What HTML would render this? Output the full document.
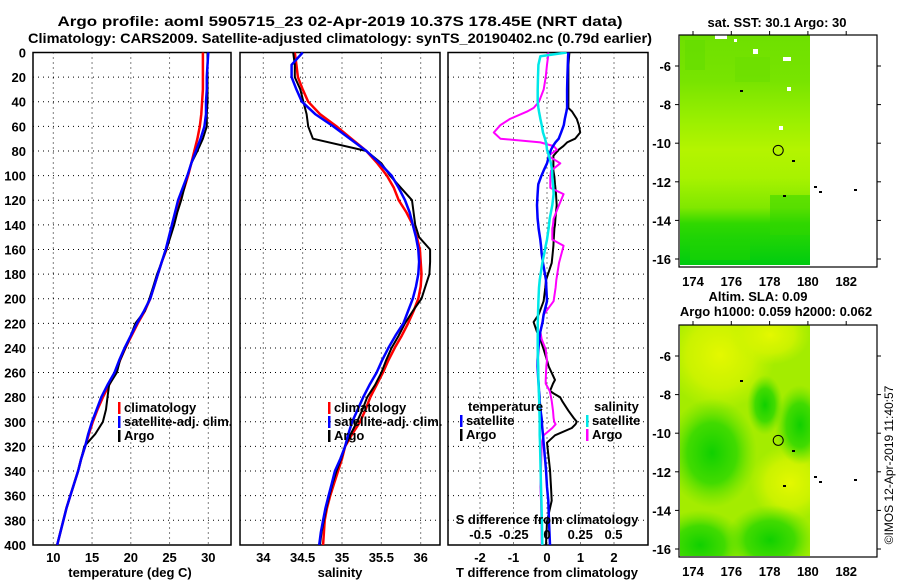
<!DOCTYPE html>
<html><head><meta charset="utf-8"><style>
html,body{margin:0;padding:0;background:#fff;}
svg{display:block;font-family:"Liberation Sans",Arial,sans-serif;font-weight:bold;}
</style></head><body>
<svg id="fig" width="900" height="580" viewBox="0 0 900 580" xmlns="http://www.w3.org/2000/svg">
<defs>
<linearGradient id="sstGrad" x1="0" y1="0" x2="0" y2="1">
<stop offset="0" stop-color="#6ee000"/><stop offset="0.2" stop-color="#78e400"/>
<stop offset="0.35" stop-color="#96ee00"/><stop offset="0.5" stop-color="#b4f400"/>
<stop offset="0.62" stop-color="#a8f200"/><stop offset="0.75" stop-color="#80e800"/>
<stop offset="0.82" stop-color="#30d800"/><stop offset="1" stop-color="#00cc10"/>
</linearGradient>
<radialGradient id="blobG" cx="0.5" cy="0.5" r="0.5"><stop offset="0" stop-color="#10d000"/><stop offset="0.55" stop-color="#30d800" stop-opacity="0.85"/><stop offset="1" stop-color="#60e000" stop-opacity="0"/></radialGradient>
<radialGradient id="blobY" cx="0.5" cy="0.5" r="0.5"><stop offset="0" stop-color="#e4f800"/><stop offset="0.6" stop-color="#d4f400" stop-opacity="0.8"/><stop offset="1" stop-color="#c8f400" stop-opacity="0"/></radialGradient>
<clipPath id="clipP1"><rect x="33" y="52" width="198" height="493"/></clipPath>
<clipPath id="clipP2"><rect x="240" y="52" width="200" height="493"/></clipPath>
<clipPath id="clipP3"><rect x="448" y="52" width="200" height="493"/></clipPath>
<clipPath id="clipM2"><rect x="680" y="325" width="130" height="231"/></clipPath>
</defs>
<text x="340" y="26" text-anchor="middle" font-size="14" textLength="565" lengthAdjust="spacingAndGlyphs">Argo profile: aoml 5905715_23 02-Apr-2019 10.37S 178.45E (NRT data)</text>
<text x="340" y="43" text-anchor="middle" font-size="14" textLength="624" lengthAdjust="spacingAndGlyphs">Climatology: CARS2009. Satellite-adjusted climatology: synTS_20190402.nc (0.79d earlier)</text>
<g id="panels"></g>
<g id="maps"></g>
<text transform="translate(893,465) rotate(-90)" text-anchor="middle" font-size="12" font-weight="normal">©IMOS 12-Apr-2019 11:40:57</text>
</svg>
<script>
// ---- data ----
const depths=[0,10,20,30,40,50,60,70,80,90,100,110,120,130,140,150,160,170,180,190,200,210,220,230,240,250,260,270,280,290,300,310,320,330,340,350,360,370,380,390,400];
const tempClim=[29.3,29.3,29.3,29.3,29.2,29.1,28.9,28.6,28.2,27.8,27.4,26.9,26.3,25.9,25.5,25.0,24.6,24.0,23.5,23.0,22.5,21.8,20.9,20.1,19.3,18.6,18.0,17.2,16.4,15.7,15.1,14.6,14.1,13.6,13.2,12.7,12.2,11.7,11.3,10.9,10.5];
const tempSat=[30.0,29.9,29.8,29.8,29.7,29.7,29.5,29.0,28.4,27.8,27.3,26.7,26.1,25.7,25.3,24.9,24.5,24.0,23.5,23.0,22.5,21.7,20.8,20.0,19.2,18.5,17.9,17.0,16.2,15.6,15.0,14.5,14.1,13.6,13.2,12.7,12.2,11.7,11.3,10.9,10.5];
const tempArgo=[29.9,29.9,29.9,29.9,29.9,29.8,29.8,29.3,28.6,27.8,27.3,26.9,26.5,26.0,25.6,25.1,24.6,24.0,23.4,22.9,22.4,21.8,20.6,20.0,19.3,18.6,18.2,17.2,17.0,16.8,16.4,15.4,14.0,13.6,13.2,12.7,12.2,11.7,11.3,10.9,10.5];
const salClim=[34.40,34.42,34.44,34.50,34.57,34.72,34.93,35.12,35.31,35.45,35.57,35.66,35.72,35.82,35.90,35.95,35.99,36.00,36.01,36.00,35.97,35.91,35.84,35.76,35.67,35.59,35.52,35.44,35.36,35.30,35.23,35.13,35.04,35.00,34.95,34.90,34.85,34.81,34.78,34.77,34.76];
const salSat=[34.50,34.36,34.36,34.42,34.49,34.66,34.89,35.10,35.31,35.48,35.63,35.72,35.80,35.86,35.90,35.94,35.97,35.98,35.97,35.94,35.90,35.84,35.78,35.68,35.59,35.51,35.44,35.35,35.27,35.20,35.13,35.08,35.04,34.98,34.91,34.87,34.83,34.79,34.76,34.73,34.71];
const salArgo=[34.38,34.40,34.40,34.47,34.51,34.55,34.57,34.63,35.31,35.50,35.61,35.75,35.89,35.91,35.93,35.98,36.12,36.12,36.11,36.06,36.01,35.90,35.80,35.72,35.63,35.56,35.50,35.42,35.32,35.26,35.19,35.11,35.04,34.99,34.93,34.88,34.84,34.80,34.77,34.74,34.72];
const dDepths=[0,3,10,20,30,40,45,48,54,59,65,70,73,76,79,84,90,96,101,107,110,115,124,135,140,143,152,157,163,171,185,191,202,213,219,227,233,241,250,255,266,269,275,277,280,283,291,297,300,302,305,311,317,339,353,364,381,400];
const tDiffSat=[0.64,0.63,0.62,0.61,0.60,0.60,0.60,0.58,0.53,0.50,0.42,0.35,0.25,0.18,0.12,0.06,0.00,-0.10,-0.18,-0.26,-0.27,-0.28,-0.30,-0.28,-0.26,-0.25,-0.20,-0.18,-0.16,-0.12,-0.03,-0.02,0.00,-0.10,-0.13,-0.20,-0.23,-0.26,-0.28,-0.28,-0.26,-0.25,-0.24,-0.23,-0.22,-0.22,-0.19,-0.16,-0.15,-0.15,-0.14,-0.12,-0.10,-0.03,0.00,0.04,0.06,0.09];
const tDiffArgo=[0.67,0.66,0.64,0.64,0.64,0.64,0.64,0.75,0.89,0.95,0.99,0.84,0.60,0.49,0.35,0.19,0.19,0.19,0.22,0.24,0.25,0.27,0.29,0.25,0.24,0.22,0.20,0.19,0.17,0.14,-0.03,-0.05,-0.10,-0.25,-0.40,-0.30,-0.20,-0.10,0.00,0.05,0.24,0.18,0.09,0.20,0.39,0.45,0.64,0.80,0.89,0.85,0.74,0.24,0.00,0.09,0.12,0.14,0.00,-0.03];
const sDiffSat=[0.148,-0.050,-0.065,-0.068,-0.070,-0.070,-0.065,-0.060,-0.050,-0.040,-0.030,-0.015,-0.008,-0.003,0.000,0.015,0.030,0.038,0.040,0.045,0.047,0.050,0.040,0.020,0.015,0.012,0.000,-0.010,-0.020,-0.035,-0.055,-0.060,-0.065,-0.068,-0.069,-0.070,-0.070,-0.070,-0.068,-0.066,-0.065,-0.064,-0.062,-0.061,-0.060,-0.059,-0.057,-0.056,-0.055,-0.055,-0.055,-0.055,-0.053,-0.048,-0.045,-0.042,-0.038,-0.035];
const sDiffArgo=[0.010,0.008,0.000,-0.010,-0.025,-0.060,-0.100,-0.150,-0.280,-0.350,-0.400,-0.350,-0.050,0.050,0.075,0.010,0.100,0.030,0.025,0.025,0.025,0.125,0.090,0.050,0.045,0.040,0.040,0.125,0.110,0.090,0.070,0.065,0.050,-0.025,-0.035,-0.050,-0.040,-0.010,0.000,-0.005,-0.010,-0.010,0.020,0.025,0.030,0.035,0.045,0.050,0.055,0.065,0.040,-0.025,-0.040,-0.045,-0.050,-0.045,-0.042,-0.040];
const depthTicks=[0,20,40,60,80,100,120,140,160,180,200,220,240,260,280,300,320,340,360,380,400];
const tempTicks=[10,15,20,25,30];
const salTicks=[34,34.5,35,35.5,36];
const tdTicks=[-2,-1,0,1,2];
const sdTicks=[-0.5,-0.25,0,0.25,0.5];
const sdTickLabels=["-0.5","-0.25","0","0.25","0.5"];
const lonTicks=[174,176,178,180,182];
const latTicks=[-6,-8,-10,-12,-14,-16];
const argoLon=178.45, argoLat=-10.37;

// ---- scales ----
const yD=d=>52.5+d*1.231;
const xT=t=>53.3+(t-10)*7.75;
const xS=s=>263.3+(s-34)*78.7;
const xTD=t=>547+t*33.5;
const xSD=s=>547+s*133;
const NS="http://www.w3.org/2000/svg";
function mk(tag,attrs,parent,txt){const e=document.createElementNS(NS,tag);for(const k in attrs)e.setAttribute(k,attrs[k]);if(txt!==undefined)e.textContent=txt;parent.appendChild(e);return e;}
const panels=document.getElementById('panels');

function panelFrame(x0,w,name){
  const g=mk('g',{},panels);
  
  
  const r=mk('rect',{x:x0,y:52.5,width:w,height:492.5,fill:'none',stroke:'#000','stroke-width':1.5},g);
  
  
  depthTicks.forEach(d=>{
    if(d>0&&d<400){const l=mk('line',{x1:x0,x2:x0+w,y1:yD(d),y2:yD(d),stroke:'#000','stroke-width':1,'stroke-dasharray':'1,4'},g);
    
    }
  });
  return g;
}
function vgrid(g,ticks,fx){ticks.forEach(t=>{const l=mk('line',{x1:fx(t),x2:fx(t),y1:52.5,y2:545,stroke:'#000','stroke-width':1,'stroke-dasharray':'1,4'},g);
  
  });}
function xlabels(g,ticks,fx,labels,y){ticks.forEach((t,i)=>{const e=mk('text',{x:fx(t),y:y,'text-anchor':'middle','font-size':13},g,labels?labels[i]:String(t));
  
  });}
function series(g,xs,ds,fx,color,w,name,clip){
  const pts=xs.map((v,i)=>fx(v).toFixed(1)+','+yD(ds[i]).toFixed(1)).join(' ');
  const p=mk('polyline',{points:pts,fill:'none',stroke:color,'stroke-width':w,'stroke-linejoin':'round','clip-path':clip},g);
  
  
}
function legend(g,x,y,color,label){
  const b=mk('rect',{x:x,y:y-10,width:2.5,height:12,fill:color},g);
  
  
  const t=mk('text',{x:x+6,y:y,'font-size':13},g,label);
  
  
}

depthTicks.forEach(d=>{const t=mk('text',{x:26,y:yD(d)+5,'text-anchor':'end','font-size':13},panels,String(d));
  
  });

const g1=panelFrame(33,198,'temperature-panel');
vgrid(g1,tempTicks,xT);
series(g1,tempClim,depths,xT,'#ff0000',2.5,'temp-climatology-line','url(#clipP1)');
series(g1,tempArgo,depths,xT,'#000000',2,'temp-argo-line','url(#clipP1)');
series(g1,tempSat,depths,xT,'#0000ff',2.5,'temp-satellite-line','url(#clipP1)');
xlabels(g1,tempTicks,xT,null,562);
let t1=mk('text',{x:130,y:577,'text-anchor':'middle','font-size':13},g1,'temperature (deg C)');


legend(g1,118,412,'#ff0000','climatology');
legend(g1,118,426,'#0000ff','satellite-adj. clim.');
legend(g1,118,440,'#000000','Argo');

const g2=panelFrame(240,200,'salinity-panel');
vgrid(g2,salTicks,xS);
series(g2,salClim,depths,xS,'#ff0000',2.5,'sal-climatology-line','url(#clipP2)');
series(g2,salArgo,depths,xS,'#000000',2,'sal-argo-line','url(#clipP2)');
series(g2,salSat,depths,xS,'#0000ff',2.5,'sal-satellite-line','url(#clipP2)');
xlabels(g2,salTicks,xS,null,562);
let t2=mk('text',{x:340,y:577,'text-anchor':'middle','font-size':13},g2,'salinity');


legend(g2,328,412,'#ff0000','climatology');
legend(g2,328,426,'#0000ff','satellite-adj. clim.');
legend(g2,328,440,'#000000','Argo');

const g3=panelFrame(448,200,'difference-panel');
vgrid(g3,tdTicks,xTD);
series(g3,tDiffArgo,dDepths,xTD,'#000000',2,'tdiff-argo-line','url(#clipP3)');
series(g3,sDiffArgo,dDepths,xSD,'#ff00ff',2,'sdiff-argo-line','url(#clipP3)');
series(g3,tDiffSat,dDepths,xTD,'#0000ff',2.5,'tdiff-satellite-line','url(#clipP3)');
series(g3,sDiffSat,dDepths,xSD,'#00e8e8',2.5,'sdiff-satellite-line','url(#clipP3)');
xlabels(g3,tdTicks,xTD,null,562);
xlabels(g3,sdTicks,xSD,sdTickLabels,539);
let t3=mk('text',{x:547,y:524,'text-anchor':'middle','font-size':13},g3,'S difference from climatology');


let t4=mk('text',{x:547,y:577,'text-anchor':'middle','font-size':13},g3,'T difference from climatology');


let t5=mk('text',{x:468,y:411,'font-size':13},g3,'temperature');


let t6=mk('text',{x:594,y:411,'font-size':13},g3,'salinity');


legend(g3,460,425,'#0000ff','satellite');
legend(g3,460,439,'#000000','Argo');
legend(g3,586,425,'#00e8e8','satellite');
legend(g3,586,439,'#ff00ff','Argo');

// ---- maps ----
const maps=document.getElementById('maps');
const mLon=lon=>693+(lon-174)*19.15;
function mapPanel(top,name,kind){
  const g=mk('g',{},maps);
  
  
  const mLat=lat=>top+31+(-6-lat)*19.3;
  if(kind==='sst'){
    const r=mk('rect',{x:680,y:top,width:130,height:230,fill:'url(#sstGrad)'},g);
    
    
    [[685,top+5,20,30,'#60dc00'],[735,top+22,35,25,'#68de00'],[690,top+205,60,20,'#22d400'],[770,top+160,40,40,'#30d600']].forEach(c=>{
      const q=mk('rect',{x:c[0],y:c[1],width:c[2],height:c[3],fill:c[4],opacity:0.5},g);
      
      });
    [[715,top,12,4],[734,top+4,3,3],[753,top+14,5,5],[783,top+22,8,4],[787,top+52,4,4],[779,top+91,4,4]].forEach(c=>{
      const q=mk('rect',{x:c[0],y:c[1],width:c[2],height:c[3],fill:'#fff'},g);
      
      });
  } else {
    const r=mk('rect',{x:680,y:top,width:130,height:231,fill:'#a4ec00'},g);
    
    
    const cg=mk('g',{'clip-path':'url(#clipM2)'},g);
    [[720,top+30,55,55,'url(#blobY)'],[770,top+10,40,30,'url(#blobY)'],[712,top+128,45,55,'url(#blobG)'],[790,top+158,40,38,'url(#blobY)'],
     [700,top+220,45,35,'url(#blobG)'],[770,top+215,45,35,'url(#blobG)'],[800,top+100,25,40,'url(#blobG)'],[765,top+80,18,30,'url(#blobG)']].forEach(c=>{
      const e=mk('ellipse',{cx:c[0],cy:c[1],rx:c[2],ry:c[3],fill:c[4]},cg);
      
      });
  }
  const f=mk('rect',{x:679,y:top,width:198,height:232,fill:'none',stroke:'#000','stroke-width':1.2},g);
  
  
  lonTicks.forEach(l=>{
    mk('line',{x1:mLon(l),x2:mLon(l),y1:top,y2:top-4,stroke:'#000'},g);
    const t=mk('text',{x:mLon(l),y:top+251,'text-anchor':'middle','font-size':13},g,String(l));
    
    });
  latTicks.forEach(l=>{
    mk('line',{x1:877,x2:881,y1:mLat(l),y2:mLat(l),stroke:'#000'},g);
    mk('line',{x1:675,x2:679,y1:mLat(l),y2:mLat(l),stroke:'#000'},g);
    const t=mk('text',{x:671,y:mLat(l)+5,'text-anchor':'end','font-size':13},g,String(l));
    
    });
  [[814,top+151],[819,top+156],[854,top+154],[740,top+55],[792,top+125],[783,top+160]].forEach(p=>{
    const s=mk('rect',{x:p[0],y:p[1],width:3,height:2,fill:'#000'},g);
    
    });
  const c=mk('circle',{cx:mLon(argoLon),cy:mLat(argoLat),r:5,fill:'none',stroke:'#000','stroke-width':1},g);
  
  
}
mapPanel(35,'sst-map','sst');
mapPanel(325,'sla-map','sla');
let m1=mk('text',{x:777,y:27,'text-anchor':'middle','font-size':13},maps,'sat. SST: 30.1 Argo: 30');


let m2=mk('text',{x:758,y:301,'text-anchor':'middle','font-size':13},maps,'Altim. SLA: 0.09');


let m3=mk('text',{x:776,y:316,'text-anchor':'middle','font-size':13},maps,'Argo h1000: 0.059 h2000: 0.062');


</script>
</body></html>
